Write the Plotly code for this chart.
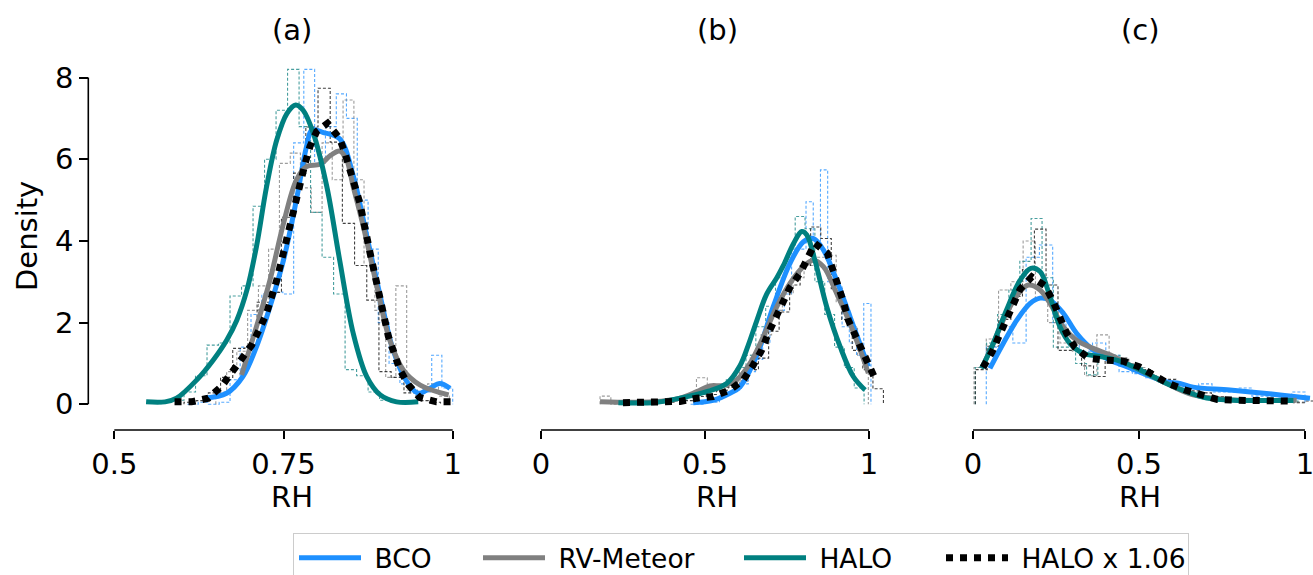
import plotly.graph_objects as go

W, H = 1313, 575

# ---------------- Panel (a) KDE curves ----------------
a_bco_x = [0.634, 0.666, 0.690, 0.710, 0.730, 0.750, 0.769, 0.784, 0.792, 0.808, 0.833, 0.853, 0.872, 0.892, 0.912, 0.931, 0.949, 0.966, 0.981, 0.996]
a_bco_y = [0.15, 0.27, 0.68, 1.41, 2.39, 3.53, 5.00, 6.31, 6.72, 6.66, 6.50, 5.60, 4.20, 2.72, 1.33, 0.59, 0.27, 0.39, 0.51, 0.39]
a_rv_x = [0.688, 0.710, 0.730, 0.750, 0.769, 0.784, 0.804, 0.820, 0.833, 0.843, 0.853, 0.868, 0.888, 0.907, 0.927, 0.952, 0.994]
a_rv_y = [0.72, 1.90, 3.04, 4.43, 5.49, 5.82, 5.88, 6.10, 6.20, 6.00, 5.33, 4.35, 2.88, 1.57, 0.84, 0.47, 0.23]
a_halo_x = [0.547, 0.575, 0.592, 0.622, 0.646, 0.666, 0.681, 0.696, 0.710, 0.725, 0.740, 0.755, 0.768, 0.779, 0.794, 0.814, 0.833, 0.853, 0.873, 0.893, 0.917, 0.949]
a_halo_y = [0.06, 0.06, 0.15, 0.60, 1.08, 1.57, 2.06, 2.80, 3.86, 5.33, 6.47, 7.12, 7.33, 7.20, 6.64, 5.33, 3.53, 1.74, 0.68, 0.23, 0.06, 0.06]
a_h106_x = [0.589, 0.614, 0.639, 0.659, 0.673, 0.688, 0.703, 0.715, 0.725, 0.740, 0.752, 0.764, 0.774, 0.782, 0.789, 0.799, 0.815, 0.833, 0.841, 0.853, 0.863, 0.878, 0.893, 0.905, 0.922, 0.935, 0.951, 0.976, 1.000]
a_h106_y = [0.06, 0.06, 0.15, 0.45, 0.77, 1.13, 1.45, 1.86, 2.23, 3.04, 3.86, 4.68, 5.49, 5.90, 6.31, 6.68, 6.88, 6.51, 6.14, 5.49, 4.92, 3.70, 2.47, 1.66, 0.84, 0.47, 0.17, 0.06, 0.06]

# ---------------- Panel (b) KDE curves ----------------
b_bco_x = [0.464, 0.525, 0.576, 0.607, 0.658, 0.708, 0.759, 0.800, 0.830, 0.861, 0.901, 0.942, 0.983, 0.998]
b_bco_y = [0.04, 0.10, 0.27, 0.43, 1.20, 2.39, 3.45, 3.98, 4.06, 3.78, 3.04, 2.15, 1.25, 0.92]
b_rv_x = [0.180, 0.342, 0.424, 0.475, 0.515, 0.556, 0.597, 0.637, 0.678, 0.719, 0.759, 0.800, 0.830, 0.861, 0.901, 0.942, 0.973, 0.998]
b_rv_y = [0.06, 0.06, 0.15, 0.31, 0.45, 0.46, 0.60, 1.00, 1.66, 2.39, 2.96, 3.37, 3.53, 3.37, 2.72, 1.98, 1.33, 0.76]
b_halo_x = [0.236, 0.342, 0.424, 0.505, 0.566, 0.607, 0.632, 0.658, 0.688, 0.719, 0.739, 0.770, 0.795, 0.810, 0.835, 0.871, 0.912, 0.952, 0.988]
b_halo_y = [0.04, 0.04, 0.15, 0.31, 0.51, 0.95, 1.45, 2.05, 2.70, 3.10, 3.40, 3.94, 4.23, 4.15, 3.53, 2.39, 1.41, 0.68, 0.35]
b_h106_x = [0.250, 0.342, 0.424, 0.475, 0.525, 0.576, 0.617, 0.647, 0.673, 0.693, 0.713, 0.734, 0.759, 0.790, 0.810, 0.835, 0.873, 0.891, 0.906, 0.922, 0.937, 0.957, 0.978, 0.998, 1.023]
b_h106_y = [0.04, 0.05, 0.07, 0.15, 0.19, 0.35, 0.60, 0.96, 1.33, 1.74, 2.10, 2.47, 2.86, 3.21, 3.57, 3.94, 3.70, 3.29, 2.88, 2.51, 2.06, 1.70, 1.29, 0.96, 0.55]

# ---------------- Panel (c) KDE curves ----------------
c_bco_x = [0.051, 0.091, 0.132, 0.172, 0.202, 0.232, 0.272, 0.312, 0.362, 0.413, 0.463, 0.523, 0.583, 0.623, 0.663, 0.774, 0.925, 1.015]
c_bco_y = [0.88, 1.49, 2.06, 2.47, 2.60, 2.55, 2.23, 1.74, 1.33, 1.08, 0.92, 0.72, 0.55, 0.51, 0.42, 0.35, 0.23, 0.15]
c_rv_x = [0.026, 0.061, 0.101, 0.142, 0.167, 0.202, 0.232, 0.272, 0.312, 0.362, 0.413, 0.463, 0.523, 0.583, 0.663, 0.763, 0.975]
c_rv_y = [0.88, 1.49, 2.23, 2.76, 2.92, 2.80, 2.47, 1.90, 1.57, 1.37, 1.21, 1.00, 0.76, 0.51, 0.23, 0.12, 0.10]
c_halo_x = [0.026, 0.061, 0.101, 0.142, 0.174, 0.202, 0.232, 0.262, 0.292, 0.332, 0.383, 0.433, 0.483, 0.533, 0.583, 0.644, 0.704, 0.784, 0.870, 0.965]
c_halo_y = [0.88, 1.49, 2.31, 3.04, 3.33, 3.25, 2.63, 1.90, 1.49, 1.25, 1.17, 1.08, 0.92, 0.72, 0.51, 0.31, 0.15, 0.10, 0.09, 0.09]
c_h106_x = [0.030, 0.058, 0.080, 0.101, 0.121, 0.142, 0.177, 0.217, 0.242, 0.260, 0.282, 0.307, 0.347, 0.400, 0.451, 0.500, 0.543, 0.588, 0.639, 0.686, 0.736, 0.789, 0.950]
c_h106_y = [0.90, 1.29, 1.70, 2.06, 2.43, 2.82, 3.12, 2.90, 2.51, 2.13, 1.74, 1.40, 1.13, 1.08, 1.06, 0.92, 0.72, 0.51, 0.35, 0.23, 0.12, 0.10, 0.08]

# ---------------- Histograms (bin edges, heights) ----------------
a_bco_edges = [0.608, 0.624, 0.639, 0.655, 0.671, 0.686, 0.702, 0.718, 0.733, 0.749, 0.765, 0.780, 0.796, 0.812, 0.828, 0.843, 0.859, 0.875, 0.890, 0.906, 0.922, 0.937, 0.953, 0.969, 0.984, 1.000]
a_bco_h = [0.0, 0.05, 0.0, 0.05, 0.6, 1.4, 2.2, 2.7, 2.75, 2.7, 6.4, 8.2, 5.9, 6.8, 7.6, 7.0, 5.0, 3.8, 2.0, 1.0, 0.5, 0.3, 0.3, 1.2, 0.4]
a_rv_edges = [0.650, 0.666, 0.681, 0.697, 0.713, 0.728, 0.744, 0.760, 0.775, 0.791, 0.807, 0.822, 0.838, 0.854, 0.869, 0.885, 0.901, 0.916, 0.932, 0.948, 0.963, 0.979, 0.995]
a_rv_h = [0.3, 0.8, 1.3, 2.3, 2.9, 3.8, 5.9, 6.15, 5.3, 4.7, 6.4, 5.5, 7.45, 5.5, 3.4, 2.3, 0.66, 2.9, 0.35, 0.3, 0.5, 0.2]
a_halo_edges = [0.569, 0.586, 0.603, 0.620, 0.637, 0.654, 0.671, 0.688, 0.705, 0.722, 0.739, 0.756, 0.773, 0.790, 0.807, 0.824, 0.841, 0.858, 0.875, 0.892, 0.909, 0.926]
a_halo_h = [0.05, 0.1, 0.3, 0.7, 1.45, 1.5, 2.65, 2.9, 4.85, 6.0, 7.2, 8.2, 6.8, 4.7, 3.6, 2.7, 0.85, 0.7, 0.3, 0.1, 0.05]
a_h106_edges = [0.603, 0.621, 0.639, 0.657, 0.675, 0.693, 0.711, 0.729, 0.747, 0.765, 0.783, 0.801, 0.819, 0.837, 0.855, 0.873, 0.891, 0.909, 0.928, 0.946, 0.964, 0.982]
a_h106_h = [0.05, 0.09, 0.28, 0.66, 1.37, 1.42, 2.5, 2.74, 4.58, 5.66, 6.79, 7.74, 6.42, 4.43, 3.4, 2.55, 0.8, 0.66, 0.28, 0.09, 0.05]

b_bco_edges = [0.456, 0.478, 0.500, 0.522, 0.544, 0.566, 0.588, 0.610, 0.632, 0.654, 0.676, 0.698, 0.720, 0.742, 0.764, 0.786, 0.808, 0.830, 0.852, 0.874, 0.896, 0.918, 0.940, 0.962, 0.984, 1.006]
b_bco_h = [0.0, 0.0, 0.1, 0.05, 0.2, 0.3, 0.35, 0.5, 0.8, 1.1, 1.5, 2.2, 2.3, 2.7, 3.8, 3.8, 4.96, 4.0, 5.74, 3.0, 2.9, 1.9, 1.5, 1.2, 2.47]
b_rv_edges = [0.180, 0.213, 0.245, 0.278, 0.311, 0.343, 0.376, 0.409, 0.442, 0.474, 0.507, 0.540, 0.572, 0.605, 0.638, 0.671, 0.703, 0.736, 0.769, 0.802, 0.834, 0.867, 0.900, 0.933, 0.965, 0.998]
b_rv_h = [0.2, 0.0, 0.0, 0.05, 0.05, 0.05, 0.1, 0.1, 0.2, 0.65, 0.4, 0.35, 0.5, 0.8, 1.2, 1.7, 2.3, 2.7, 3.1, 3.4, 3.6, 3.65, 2.5, 1.9, 1.2]
b_halo_edges = [0.235, 0.265, 0.295, 0.325, 0.355, 0.385, 0.415, 0.445, 0.475, 0.505, 0.535, 0.565, 0.595, 0.625, 0.655, 0.685, 0.715, 0.745, 0.775, 0.805, 0.835, 0.865, 0.895, 0.925, 0.955, 0.985]
b_halo_h = [0.05, 0.0, 0.05, 0.05, 0.05, 0.1, 0.1, 0.2, 0.25, 0.35, 0.45, 0.6, 0.9, 1.2, 1.9, 2.4, 3.1, 3.6, 4.6, 4.3, 3.0, 2.2, 1.4, 0.9, 0.4]
b_h106_edges = [0.249, 0.281, 0.313, 0.345, 0.376, 0.408, 0.440, 0.472, 0.504, 0.535, 0.567, 0.599, 0.631, 0.663, 0.694, 0.726, 0.758, 0.790, 0.822, 0.853, 0.885, 0.917, 0.949, 0.981, 1.012, 1.044]
b_h106_h = [0.05, 0.0, 0.05, 0.05, 0.05, 0.09, 0.09, 0.19, 0.24, 0.33, 0.42, 0.57, 0.85, 1.13, 1.79, 2.26, 2.92, 3.4, 4.34, 4.06, 2.83, 2.08, 1.32, 0.85, 0.38]

c_bco_edges = [0.04, 0.08, 0.12, 0.16, 0.20, 0.24, 0.28, 0.32, 0.36, 0.40, 0.44, 0.48, 0.52, 0.56, 0.60, 0.64, 0.68, 0.72, 0.76, 0.80, 0.84, 0.88, 0.92, 0.96, 1.00]
c_bco_h = [1.4, 1.9, 1.5, 3.6, 3.9, 2.0, 1.7, 1.3, 1.5, 1.2, 0.8, 0.75, 0.65, 0.55, 0.45, 0.4, 0.5, 0.3, 0.3, 0.4, 0.2, 0.2, 0.15, 0.3]
c_rv_edges = [0.003, 0.040, 0.077, 0.114, 0.151, 0.188, 0.225, 0.262, 0.299, 0.336, 0.373, 0.410, 0.447, 0.484, 0.521, 0.558, 0.595, 0.632, 0.669, 0.706, 0.743, 0.780, 0.817, 0.854, 0.891, 0.928, 0.965, 1.002]
c_rv_h = [0.9, 1.6, 2.8, 3.0, 4.0, 2.6, 2.0, 1.5, 1.3, 0.7, 1.7, 1.1, 1.0, 0.9, 0.7, 0.55, 0.45, 0.3, 0.2, 0.15, 0.1, 0.1, 0.08, 0.05, 0.05, 0.05, 0.03]
c_halo_edges = [0.007, 0.041, 0.074, 0.108, 0.141, 0.175, 0.208, 0.242, 0.275, 0.309, 0.342, 0.376, 0.409, 0.443, 0.476, 0.510, 0.543, 0.577, 0.610, 0.644, 0.677, 0.711, 0.744, 0.778, 0.811, 0.845, 0.878, 0.912, 0.945, 0.979]
c_halo_h = [0.9, 1.5, 2.2, 2.8, 3.5, 4.55, 3.1, 1.4, 1.4, 1.0, 0.72, 1.2, 1.2, 1.0, 0.9, 0.7, 0.65, 0.5, 0.35, 0.3, 0.2, 0.12, 0.1, 0.1, 0.1, 0.05, 0.1, 0.05, 0.08]
c_h106_edges = [0.007, 0.043, 0.078, 0.114, 0.149, 0.185, 0.220, 0.256, 0.292, 0.327, 0.363, 0.398, 0.434, 0.469, 0.505, 0.540, 0.576, 0.611, 0.647, 0.682, 0.718, 0.754, 0.789, 0.825, 0.860, 0.896, 0.931, 0.967, 1.002, 1.038]
c_h106_h = [0.85, 1.42, 2.08, 2.64, 3.3, 4.29, 2.92, 1.32, 1.32, 0.94, 0.68, 1.13, 1.13, 0.94, 0.85, 0.66, 0.61, 0.47, 0.33, 0.28, 0.19, 0.11, 0.09, 0.09, 0.09, 0.05, 0.09, 0.05, 0.08]

series_names = ["BCO", "RV-Meteor", "HALO", "HALO x 1.06"]
series_colors = ["#1E90FF", "#808080", "#008080", "#000000"]
hist_colors = ["#3a9cff", "#8c8c8c", "#2a8f8f", "#222222"]

panel_titles = ["(a)", "(b)", "(c)"]
x_tickvals = [[0.5, 0.75, 1.0], [0, 0.5, 1.0], [0, 0.5, 1.0]]
x_ticktext = [["0.5", "0.75", "1"], ["0", "0.5", "1"], ["0", "0.5", "1"]]
y_tickvals = [0, 2, 4, 6, 8]

kde = [
    [(a_bco_x, a_bco_y), (a_rv_x, a_rv_y), (a_halo_x, a_halo_y), (a_h106_x, a_h106_y)],
    [(b_bco_x, b_bco_y), (b_rv_x, b_rv_y), (b_halo_x, b_halo_y), (b_h106_x, b_h106_y)],
    [(c_bco_x, c_bco_y), (c_rv_x, c_rv_y), (c_halo_x, c_halo_y), (c_h106_x, c_h106_y)],
]
hists = [
    [(a_bco_edges, a_bco_h), (a_rv_edges, a_rv_h), (a_halo_edges, a_halo_h), (a_h106_edges, a_h106_h)],
    [(b_bco_edges, b_bco_h), (b_rv_edges, b_rv_h), (b_halo_edges, b_halo_h), (b_h106_edges, b_h106_h)],
    [(c_bco_edges, c_bco_h), (c_rv_edges, c_rv_h), (c_halo_edges, c_halo_h), (c_h106_edges, c_h106_h)],
]

# ---------------- layout geometry (pixels) ----------------
FONT = "DejaVu Sans"
FS = 29
LFS = 26.5
def px(xp):
    return xp / W
def py(yp):
    return 1 - yp / H

panel_px = [(100, 475, 0.5, 114.3, 1.0, 452.7), (525, 890, 0.0, 541.0, 1.0, 869.0), (955, 1313, 0.0, 973.0, 1.0, 1305.0)]
y_top_px, y_bot_px = 50.0, 430.0
y0_px, ppu_y = 404.3, 40.84

legend_widths = [107, 184, 125, 170]
label_pad = "\u00a0"

fig = go.Figure()

axis_names = ["", "2", "3"]
for p in range(3):
    xa = "x" + axis_names[p]
    ya = "y" + axis_names[p]
    for s in range(4):
        edges, h = hists[p][s]
        xs = [edges[0]] + list(edges[:-1]) + [edges[-1]]
        ys = [0] + list(h) + [0]
        fig.add_trace(go.Scatter(x=xs, y=ys, mode="lines", line_shape="hv",
                                 line=dict(color=hist_colors[s], width=1.1, dash="3px,2px"),
                                 opacity=0.85, showlegend=False, hoverinfo="skip",
                                 xaxis=xa, yaxis=ya))
    for s in range(4):
        xs, ys = kde[p][s]
        if s == 3:
            line = dict(color="black", width=7, dash="7px,7px")
            shape = "linear"
        else:
            line = dict(color=series_colors[s], width=5)
            shape = "spline"
        fig.add_trace(go.Scatter(x=xs, y=ys, mode="lines", line=line, line_shape=shape,
                                 name=label_pad + series_names[s], showlegend=(p == 0),
                                 legendwidth=legend_widths[s],
                                 xaxis=xa, yaxis=ya))

layout = dict(width=W, height=H, margin=dict(l=0, r=0, t=0, b=0, autoexpand=False),
              paper_bgcolor="white", plot_bgcolor="white",
              font=dict(family=FONT, size=FS, color="black"))

ylo = -(y_bot_px - y0_px) / ppu_y
yhi = (y0_px - y_top_px) / ppu_y
for p in range(3):
    d0, d1, v0, p0, v1, p1 = panel_px[p]
    scale = (p1 - p0) / (v1 - v0)
    r0 = v0 + (d0 - p0) / scale
    r1 = v0 + (d1 - p0) / scale
    layout["xaxis" + axis_names[p]] = dict(
        domain=[px(d0), px(d1)], range=[r0, r1], anchor="y" + axis_names[p],
        showgrid=False, zeroline=False, showline=False,
        ticks="outside", ticklen=8, tickwidth=1.6, tickcolor="black",
        tickvals=x_tickvals[p], ticktext=x_ticktext[p], ticklabeloverflow="allow",
        tickfont=dict(size=FS), automargin=False)
    ydict = dict(domain=[py(y_bot_px), py(y_top_px)], range=[ylo, yhi],
                 showgrid=False, zeroline=False, showline=False, automargin=False)
    if p == 0:
        ydict.update(anchor="free", position=px(88.3), ticks="outside", ticklen=9,
                     tickwidth=1.6, tickcolor="black", tickvals=y_tickvals,
                     tickfont=dict(size=FS))
    else:
        ydict.update(anchor="x" + axis_names[p], matches="y", visible=False)
    layout["yaxis" + axis_names[p]] = ydict

shapes = []
shapes.append(dict(type="line", xref="paper", yref="y", x0=px(88.3), x1=px(88.3), y0=0, y1=8,
                   line=dict(color="black", width=1.6)))
for p in range(3):
    xref = "x" + axis_names[p]
    shapes.append(dict(type="line", xref=xref, yref="paper", x0=x_tickvals[p][0], x1=x_tickvals[p][-1],
                       y0=py(y_bot_px), y1=py(y_bot_px), line=dict(color="black", width=1.6)))
layout["shapes"] = shapes

ann = []
title_x = [292, 717, 1140]
for p in range(3):
    ann.append(dict(text=panel_titles[p], x=px(title_x[p]), y=py(30), xref="paper", yref="paper",
                    showarrow=False, xanchor="center", yanchor="middle", font=dict(size=FS)))
    ann.append(dict(text="RH", x=px(title_x[p]), y=py(497), xref="paper", yref="paper",
                    showarrow=False, xanchor="center", yanchor="middle", font=dict(size=FS)))
ann.append(dict(text="Density", x=px(27), y=py(236), xref="paper", yref="paper", textangle=-90,
                showarrow=False, xanchor="center", yanchor="middle", font=dict(size=FS)))
layout["annotations"] = ann

layout["legend"] = dict(orientation="h", x=px(293), y=py(533), xanchor="left", yanchor="top",
                        bordercolor="#cccccc", borderwidth=1, bgcolor="white",
                        font=dict(size=LFS), itemwidth=62)

fig.update_layout(**layout)
fig.write_html("out.html", config={"displayModeBar": False},
               post_script="document.body.style.margin='0';document.body.style.overflow='hidden';")
